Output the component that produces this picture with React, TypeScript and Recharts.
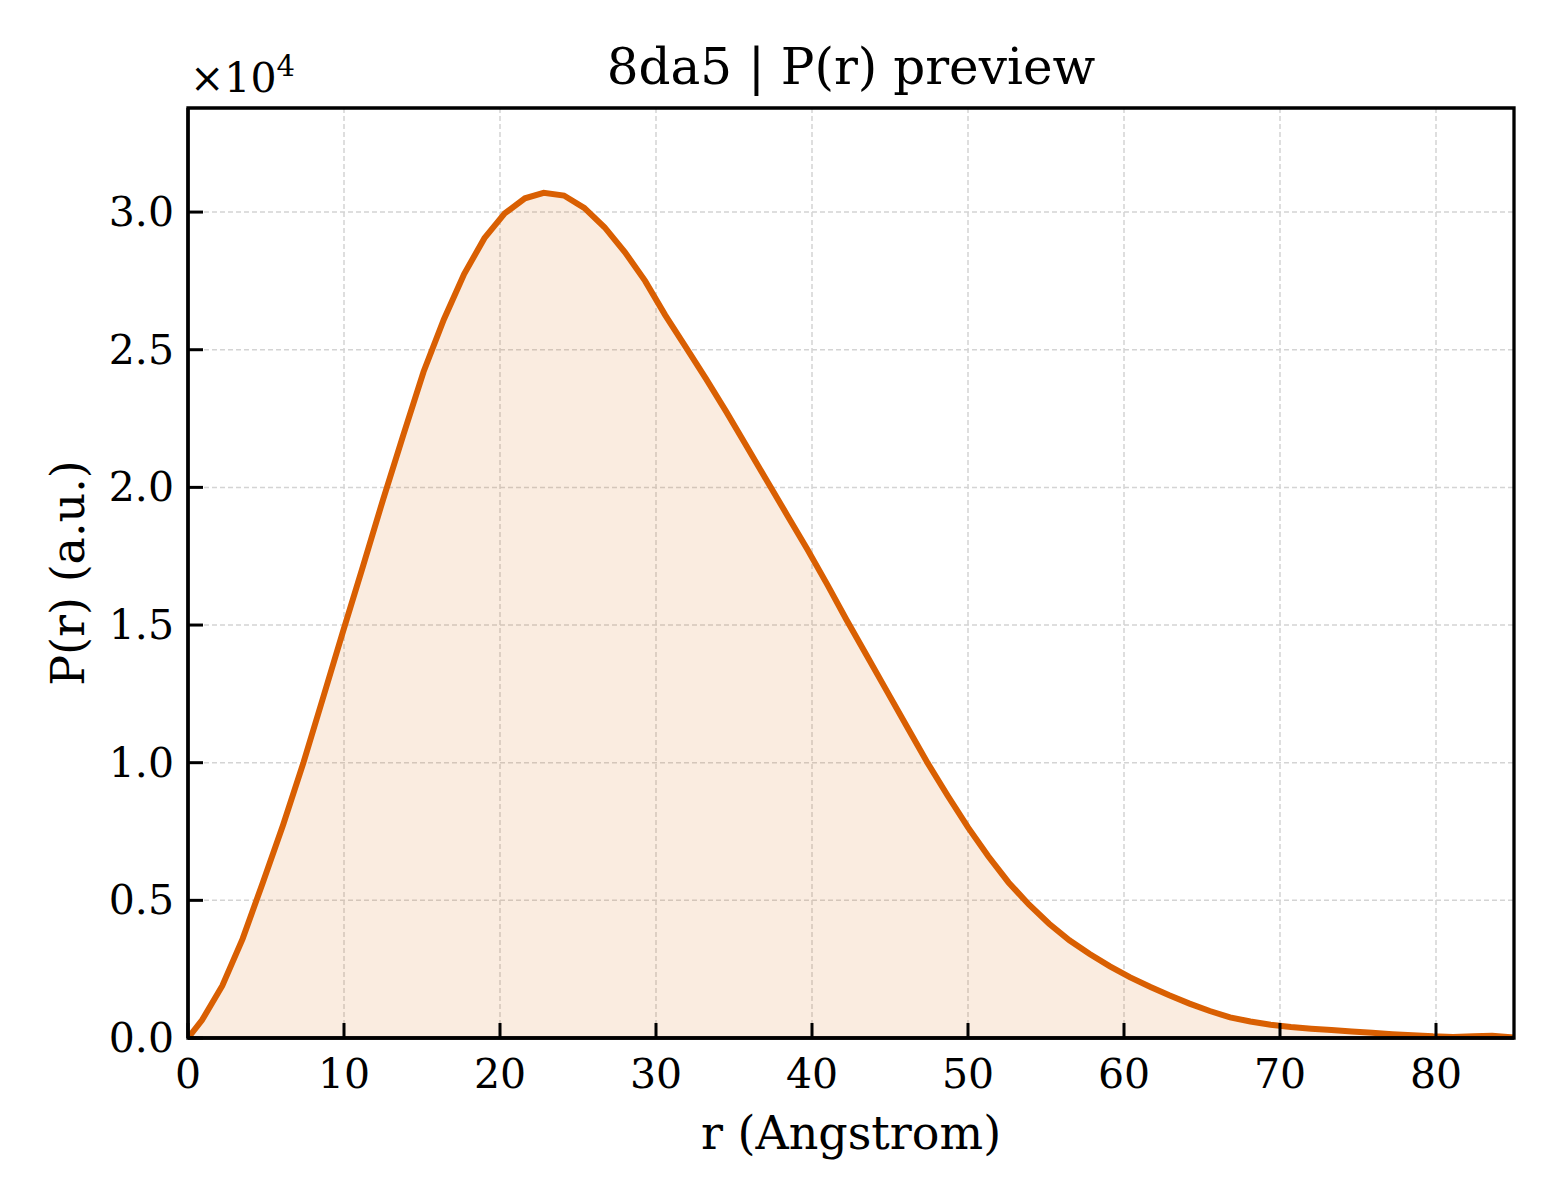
import React from "react";
import {
  AreaChart,
  Area,
  XAxis,
  YAxis,
  CartesianGrid,
  ReferenceArea,
} from "recharts";

// r (Angstrom) sample positions
const rValues = [
  0, 0.9, 2.2, 3.5, 4.8, 6.1, 7.4, 8.6, 9.9, 11.2, 12.5, 13.8, 15.1, 16.4,
  17.7, 19.0, 20.3, 21.6, 22.8, 24.1, 25.4, 26.7, 28.0, 29.3, 30.6, 31.9, 33.2,
  34.5, 35.8, 37.1, 38.4, 39.7, 41.0, 42.2, 43.5, 44.8, 46.1, 47.4, 48.7, 50.0,
  51.3, 52.6, 53.9, 55.2, 56.5, 57.8, 59.1, 60.4, 61.7, 62.9, 64.2, 65.5, 66.8,
  68.1, 69.4, 70.7, 72.0, 73.3, 74.6, 75.9, 77.2, 78.5, 79.8, 81.1, 82.4, 83.6,
  85.0,
];

// P(r) in units of 1e4
const prValues = [
  0, 0.065, 0.19, 0.36, 0.565, 0.775, 1.0, 1.225, 1.47, 1.71, 1.955, 2.19,
  2.42, 2.61, 2.775, 2.905, 2.995, 3.05, 3.07, 3.06, 3.015, 2.945, 2.855, 2.75,
  2.625, 2.51, 2.395, 2.275, 2.15, 2.025, 1.9, 1.775, 1.645, 1.52, 1.39, 1.26,
  1.13, 1.0, 0.88, 0.765, 0.66, 0.565, 0.485, 0.415, 0.355, 0.305, 0.26, 0.22,
  0.185, 0.155, 0.125, 0.098, 0.075, 0.06, 0.048, 0.04, 0.034, 0.029, 0.024,
  0.019, 0.014, 0.01, 0.006, 0.004, 0.006, 0.008, 0.002,
];

const xTicks = [0, 10, 20, 30, 40, 50, 60, 70, 80];
const yTicks = [0, 5000, 10000, 15000, 20000, 25000, 30000];

const data = rValues.map((r, i) => ({ r, pr: prValues[i] * 1e4 }));

const FONT = "'DejaVu Serif', serif";
const TICK_LEN = 15;
const PLOT_LEFT = 188;
const PLOT_BOTTOM = 1038;

// ticks point inward, labels sit outside
const renderXTick = (props: any) => {
  const { x, payload } = props;
  return (
    <g key={`xt-${payload.value}`}>
      <line
        x1={x}
        y1={PLOT_BOTTOM}
        x2={x}
        y2={PLOT_BOTTOM - TICK_LEN}
        stroke="#000"
        strokeWidth={3}
      />
      <text
        x={x}
        y={PLOT_BOTTOM + 50}
        textAnchor="middle"
        fontFamily={FONT}
        fontSize={41}
        fill="#000"
      >
        {payload.value}
      </text>
    </g>
  );
};

const renderYTick = (props: any) => {
  const { y, payload } = props;
  return (
    <g key={`yt-${payload.value}`}>
      <line
        x1={PLOT_LEFT}
        y1={y}
        x2={PLOT_LEFT + TICK_LEN}
        y2={y}
        stroke="#000"
        strokeWidth={3}
      />
      <text
        x={PLOT_LEFT - 14}
        y={y + 14}
        textAnchor="end"
        fontFamily={FONT}
        fontSize={41}
        fill="#000"
      >
        {(payload.value / 1e4).toFixed(1)}
      </text>
    </g>
  );
};

export default function App() {
  return (
    <div
      style={{
        position: "absolute",
        left: 0,
        top: 0,
        width: 1560,
        height: 1200,
        background: "#fff",
        fontFamily: FONT,
      }}
    >
      <AreaChart
        width={1560}
        height={1200}
        data={data}
        margin={{ top: 108, right: 46, bottom: 102, left: 108 }}
      >
        <CartesianGrid stroke="#d4d4d4" strokeDasharray="5 3" strokeWidth={1.5} />
        <XAxis
          dataKey="r"
          type="number"
          domain={[0, 85]}
          ticks={xTicks}
          interval={0}
          height={60}
          tickLine={false}
          axisLine={{ stroke: "#000", strokeWidth: 3.3 }}
          tick={renderXTick}
          allowDataOverflow
        />
        <YAxis
          type="number"
          domain={[0, 33780]}
          ticks={yTicks}
          interval={0}
          width={80}
          tickLine={false}
          axisLine={{ stroke: "#000", strokeWidth: 3.3 }}
          tick={renderYTick}
          allowDataOverflow
        />
        <Area
          type="linear"
          dataKey="pr"
          stroke="#d95f02"
          strokeWidth={6}
          fill="#d95f02"
          fillOpacity={0.12}
          isAnimationActive={false}
          dot={false}
          activeDot={false}
        />
        <ReferenceArea
          x1={0}
          x2={85}
          y1={0}
          y2={33780}
          fill="none"
          stroke="#000"
          strokeWidth={3.3}
          ifOverflow="visible"
        />
      </AreaChart>

      <div
        style={{
          position: "absolute",
          left: 0,
          width: 1702,
          top: 36,
          textAlign: "center",
          fontSize: 50,
          lineHeight: "62px",
          color: "#000",
        }}
      >
        8da5 | P(r) preview
      </div>

      <div
        style={{
          position: "absolute",
          left: 190,
          top: 56,
          fontSize: 41,
          lineHeight: "44px",
          color: "#000",
        }}
      >
        ×10<sup style={{ fontSize: 29, verticalAlign: "0.55em", lineHeight: 0 }}>4</sup>
      </div>

      <div
        style={{
          position: "absolute",
          left: 0,
          width: 1702,
          top: 1104,
          textAlign: "center",
          fontSize: 46,
          lineHeight: "58px",
          color: "#000",
        }}
      >
        r (Angstrom)
      </div>

      <div
        style={{
          position: "absolute",
          left: 68 - 300,
          width: 600,
          top: 573 - 29,
          textAlign: "center",
          fontSize: 46,
          lineHeight: "58px",
          color: "#000",
          transform: "rotate(-90deg)",
        }}
      >
        P(r) (a.u.)
      </div>
    </div>
  );
}
